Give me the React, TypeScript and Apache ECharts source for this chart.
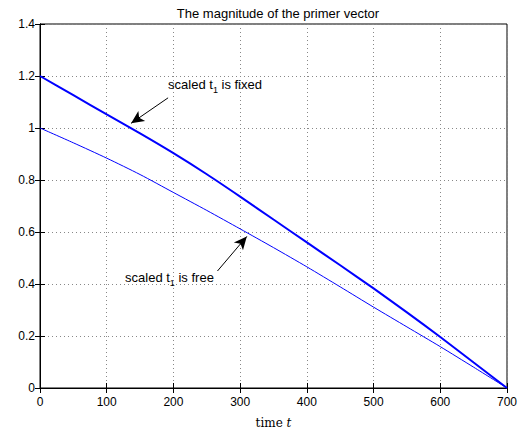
import React, { useEffect, useRef } from "react";
import * as echarts from "echarts";

const timeValues = [0, 50, 100, 150, 200, 250, 300, 350, 400, 450, 500, 550, 600, 650, 700];
const fixedValues = [1.2, 1.126, 1.052, 0.979, 0.903, 0.822, 0.736, 0.648, 0.56, 0.472, 0.383, 0.291, 0.196, 0.098, 0];
const freeValues = [1.0, 0.943, 0.884, 0.821, 0.752, 0.683, 0.612, 0.54, 0.466, 0.389, 0.311, 0.235, 0.159, 0.08, 0];

const titleText = "The magnitude of the primer vector";
const fixedArrow = [[192, 1.116], [136.5, 1.018]];
const freeArrow = [[266, 0.45], [310, 0.583]];
const fixedLabelAt = [192, 1.169];
const freeLabelAt = [127.5, 0.425];

export default function App() {
  const ref = useRef<HTMLDivElement>(null);
  useEffect(() => {
    document.body.style.margin = "0";
    const chart = echarts.init(ref.current!, null, { renderer: "svg" });
    const font = "'Liberation Sans', Arial, Helvetica, sans-serif";
    const tickStyle = { show: true, inside: true, length: 5, lineStyle: { color: "#000", width: 1 } };
    const rich = {
      a: { fontSize: 13, fontFamily: font, color: "#000" },
      s: { fontSize: 9, fontFamily: font, color: "#000", padding: [11, 0, 0, 0] },
    };
    const annotLabel = (txt: string) => ({
      show: true,
      position: "right",
      distance: 0,
      formatter: txt,
      rich,
    });
    chart.setOption({
      animation: false,
      backgroundColor: "#fff",
      title: {
        text: titleText,
        left: 273,
        textAlign: "center",
        top: 2,
        textStyle: { fontSize: 13, fontWeight: "normal", fontFamily: font, color: "#000" },
      },
      grid: { left: 40, right: 15, top: 24, bottom: 40, show: true, borderColor: "#000", borderWidth: 1, containLabel: false },
      xAxis: [
        {
          type: "value",
          min: 0,
          max: 700,
          interval: 100,
          position: "bottom",
          name: "{a|time }{b|t}",
          nameLocation: "middle",
          nameGap: 29,
          nameTextStyle: {
            rich: {
              a: { fontFamily: "'DejaVu Serif', serif", fontSize: 12, color: "#000" },
              b: { fontFamily: "'DejaVu Serif', serif", fontSize: 12, fontStyle: "italic", color: "#000" },
            },
          },
          axisLine: { show: true, lineStyle: { color: "#000", width: 1 } },
          axisTick: tickStyle,
          axisLabel: { fontSize: 12, fontFamily: font, color: "#000", margin: 8 },
          splitLine: { show: true, lineStyle: { color: "#888", type: [1, 3], width: 1 } },
        },
        {
          type: "value",
          min: 0,
          max: 700,
          interval: 100,
          position: "top",
          axisLine: { show: true, lineStyle: { color: "#000", width: 1 } },
          axisTick: tickStyle,
          axisLabel: { show: false },
          splitLine: { show: false },
        },
      ],
      yAxis: [
        {
          type: "value",
          min: 0,
          max: 1.4,
          interval: 0.2,
          position: "left",
          axisLine: { show: true, lineStyle: { color: "#000", width: 1 } },
          axisTick: tickStyle,
          axisLabel: { fontSize: 12, fontFamily: font, color: "#000", margin: 5 },
          splitLine: { show: true, lineStyle: { color: "#888", type: [1, 3], width: 1 } },
        },
        {
          type: "value",
          min: 0,
          max: 1.4,
          interval: 0.2,
          position: "right",
          axisLine: { show: true, lineStyle: { color: "#000", width: 1 } },
          axisTick: tickStyle,
          axisLabel: { show: false },
          splitLine: { show: false },
        },
      ],
      series: [
        {
          type: "line",
          name: "fixed",
          data: timeValues.map((t, i) => [t, fixedValues[i]]),
          showSymbol: false,
          smooth: 0.25,
          lineStyle: { color: "#0000ff", width: 2 },
          itemStyle: { color: "#0000ff" },
          markLine: {
            silent: true,
            symbol: ["none", "arrow"],
            symbolSize: [9, 13],
            label: { show: false },
            lineStyle: { color: "#000", width: 1, type: "solid" },
            data: [[{ coord: fixedArrow[0] }, { coord: fixedArrow[1] }]],
          },
          markPoint: {
            silent: true,
            symbol: "circle",
            symbolSize: 0,
            data: [{ coord: fixedLabelAt, label: annotLabel("{a|scaled t}{s|1}{a| is fixed}") }],
          },
        },
        {
          type: "line",
          name: "free",
          data: timeValues.map((t, i) => [t, freeValues[i]]),
          showSymbol: false,
          smooth: 0.25,
          lineStyle: { color: "#0000ff", width: 1 },
          itemStyle: { color: "#0000ff" },
          markLine: {
            silent: true,
            symbol: ["none", "arrow"],
            symbolSize: [9, 13],
            label: { show: false },
            lineStyle: { color: "#000", width: 1, type: "solid" },
            data: [[{ coord: freeArrow[0] }, { coord: freeArrow[1] }]],
          },
          markPoint: {
            silent: true,
            symbol: "circle",
            symbolSize: 0,
            data: [{ coord: freeLabelAt, label: annotLabel("{a|scaled t}{s|1}{a| is free}") }],
          },
        },
      ],
    });
    return () => chart.dispose();
  }, []);
  return <div ref={ref} style={{ width: 522, height: 434 }} />;
}
